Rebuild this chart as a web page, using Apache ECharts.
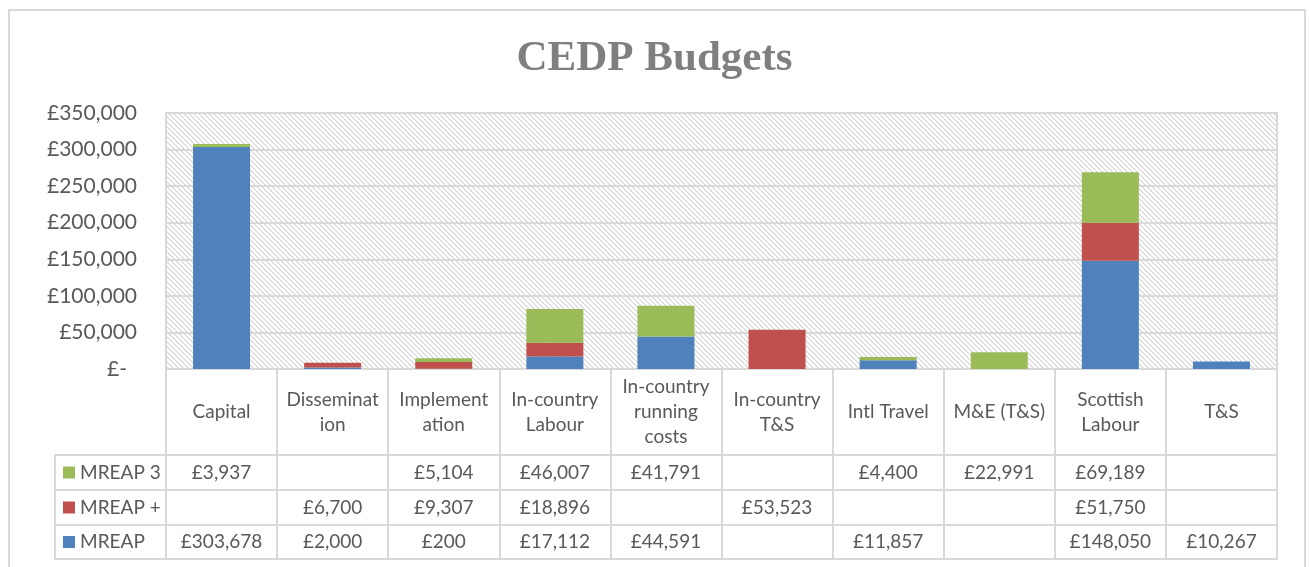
<!DOCTYPE html>
<html>
<head>
<meta charset="utf-8">
<script src="https://cdn.jsdelivr.net/npm/echarts@6/dist/echarts.min.js"></script>
<style>
  html, body { margin: 0; padding: 0; background: #ffffff; }
  #chart { width: 1309px; height: 567px; }
</style>
</head>
<body>
<div id="chart"></div>
<script>
// Budget lines (categories) and their wrapped display text
const categories = ['Capital', 'Dissemination', 'Implementation', 'In-country Labour',
  'In-country running costs', 'In-country T&S', 'Intl Travel', 'M&E (T&S)', 'Scottish Labour', 'T&S'];
const categoryLabels = ['Capital', 'Disseminat\nion', 'Implement\nation', 'In-country\nLabour',
  'In-country\nrunning\ncosts', 'In-country\nT&S', 'Intl Travel', 'M&E (T&S)', 'Scottish\nLabour', 'T&S'];

// Budget per programme (GBP); null = no budget in that line
const mreap     = [303678, 2000, 200, 17112, 44591, null, 11857, null, 148050, 10267];
const mreapPlus = [null, 6700, 9307, 18896, null, 53523, null, null, 51750, null];
const mreap3    = [3937, null, 5104, 46007, 41791, null, 4400, 22991, 69189, null];

// Value axis range
const yMin = 0, yMax = 350000, yStep = 50000;

// Series drawn bottom to top; table rows listed top to bottom
const seriesDefs = [
  { name: 'MREAP',   values: mreap,     color: '#4f81bd' },
  { name: 'MREAP +', values: mreapPlus, color: '#c0504d' },
  { name: 'MREAP 3', values: mreap3,    color: '#9bbb59' }
];
const tableRows = [seriesDefs[2], seriesDefs[1], seriesDefs[0]];

// Layout
const W = 1309, H = 567;
const gridLeft = 166, gridRight = 1277, gridTop = 113, gridBottom = 369;
const headerH = 86;
const rowLines = [86, 121, 156, 190];   // offsets of table row lines below the plot
const keyLeft = 55;
const textColor = '#595959';
const lineColor = '#d9d9d9';
const font = 'Lato, "Open Sans", sans-serif';
const fontSize = 19;
const axisFontSize = 21;

const money = v => (v == null ? '' : '£' + v.toLocaleString('en-GB'));

// Downward-diagonal hatch for the plot area
function hatchPattern() {
  const n = 5;
  const c = document.createElement('canvas');
  c.width = n; c.height = n;
  const g = c.getContext('2d');
  g.fillStyle = '#ffffff';
  g.fillRect(0, 0, n, n);
  for (let i = 0; i < n; i++) {
    g.fillStyle = '#d3d3d3';
    g.fillRect(i, i, 1, 1);
    g.fillStyle = '#ececec';
    g.fillRect((i + 1) % n, i, 1, 1);
  }
  return { image: c, repeat: 'repeat' };
}

const tableLine = { color: lineColor, width: 2 };
const labelBase = { color: textColor, fontSize: fontSize, fontFamily: font };

const xAxes = [{
  type: 'category',
  data: categories,
  position: 'bottom',
  axisLine: { show: true, onZero: false, lineStyle: tableLine },
  axisTick: { show: true, length: rowLines[3], lineStyle: tableLine },
  axisLabel: Object.assign({
    interval: 0, margin: headerH / 2, verticalAlign: 'middle', lineHeight: 25,
    formatter: (v, i) => categoryLabels[i]
  }, labelBase),
  splitLine: { show: false }
}];
tableRows.forEach((row, k) => {
  xAxes.push({
    type: 'category',
    data: categories,
    position: 'bottom',
    offset: rowLines[k],
    axisLine: { show: true, onZero: false, lineStyle: tableLine },
    axisTick: { show: false },
    axisLabel: Object.assign({
      interval: 0, margin: (rowLines[k + 1] - rowLines[k]) / 2, verticalAlign: 'middle',
      formatter: (v, i) => money(row.values[i])
    }, labelBase),
    splitLine: { show: false }
  });
});
xAxes.push({
  type: 'category',
  data: categories,
  position: 'bottom',
  offset: rowLines[3],
  axisLine: { show: true, onZero: false, lineStyle: tableLine },
  axisTick: { show: false },
  axisLabel: { show: false },
  splitLine: { show: false }
});

// Row keys of the data table
const legends = tableRows.map((row, k) => {
  const top = gridBottom + rowLines[k];
  const bottom = gridBottom + rowLines[k + 1];
  return {
    data: [row.name],
    left: 63,
    top: (top + bottom) / 2 - 10,
    orient: 'vertical',
    icon: 'rect',
    itemWidth: 12,
    itemHeight: 12,
    padding: 0,
    selectedMode: false,
    textStyle: { color: textColor, fontSize: fontSize, fontFamily: font, lineHeight: 20 }
  };
});

// Cell borders of the key column
const keyLines = [];
rowLines.forEach(off => {
  keyLines.push({
    type: 'line', silent: true,
    shape: { x1: keyLeft, y1: gridBottom + off, x2: gridLeft, y2: gridBottom + off },
    style: { stroke: lineColor, lineWidth: 2 }
  });
});
keyLines.push({
  type: 'line', silent: true,
  shape: { x1: keyLeft, y1: gridBottom + rowLines[0] - 1, x2: keyLeft, y2: gridBottom + rowLines[3] + 1 },
  style: { stroke: lineColor, lineWidth: 2 }
});

const chart = echarts.init(document.getElementById('chart'), null, { renderer: 'canvas', width: W, height: H });
chart.setOption({
  animation: false,
  backgroundColor: '#ffffff',
  title: {
    text: 'CEDP Budgets',
    left: 'center',
    top: 37,
    padding: [0, 0, 0, 14],
    textStyle: { fontFamily: '"Liberation Serif", serif', fontWeight: 'bold', fontSize: 43, color: '#7f7f7f' }
  },
  graphic: [{
    type: 'rect', silent: true, z: -10,
    shape: { x: 9, y: 10, width: 1296, height: 620 },
    style: { fill: 'none', stroke: lineColor, lineWidth: 2 }
  }].concat(keyLines),
  legend: legends,
  grid: {
    left: gridLeft, right: W - gridRight, top: gridTop, bottom: H - gridBottom,
    show: true,
    backgroundColor: hatchPattern(),
    borderColor: lineColor,
    borderWidth: 2,
    containLabel: false
  },
  xAxis: xAxes,
  yAxis: {
    type: 'value',
    min: yMin, max: yMax, interval: yStep,
    axisLine: { show: false },
    axisTick: { show: false },
    splitLine: { show: true, lineStyle: { color: lineColor, width: 2 } },
    axisLabel: {
      margin: 29,
      color: textColor, fontSize: axisFontSize, fontFamily: font,
      formatter: v => (v === 0 ? '{z|£-}' : money(v)),
      rich: { z: { color: textColor, fontSize: axisFontSize, fontFamily: font, padding: [0, 10, 0, 0] } }
    }
  },
  series: seriesDefs.map(s => ({
    name: s.name,
    type: 'bar',
    stack: 'budget',
    xAxisIndex: 0,
    barWidth: 57,
    data: s.values,
    itemStyle: { color: s.color }
  }))
});
</script>
</body>
</html>
